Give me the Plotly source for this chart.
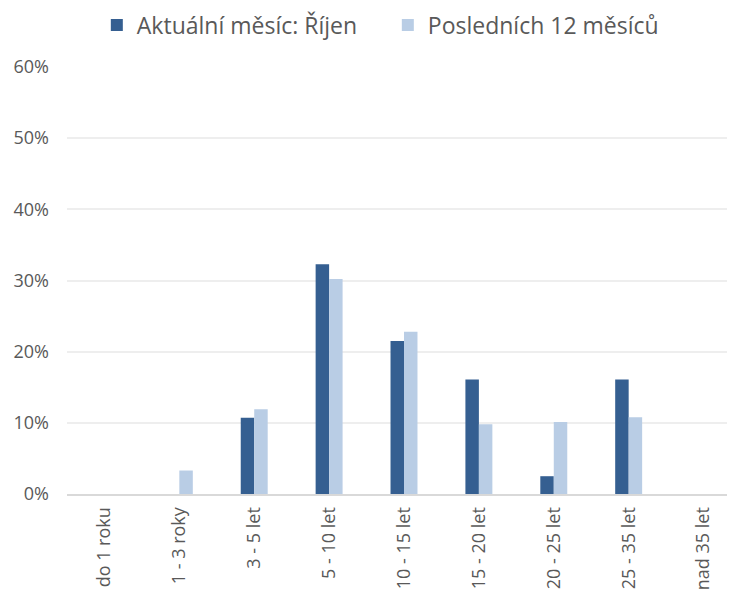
import plotly.graph_objects as go

categories = ["do 1 roku", "1 - 3 roky", "3 - 5 let", "5 - 10 let", "10 - 15 let",
              "15 - 20 let", "20 - 25 let", "25 - 35 let", "nad 35 let"]
aktualni = [0, 0, 0.107, 0.323, 0.215, 0.161, 0.025, 0.161, 0]
poslednich = [0, 0.033, 0.119, 0.302, 0.228, 0.098, 0.101, 0.108, 0]
series_names = ["Aktuální měsíc: Říjen", "Posledních 12 měsíců"]
ytick_vals = [0, 0.1, 0.2, 0.3, 0.4, 0.5, 0.6]
ytick_text = ["0%", "10%", "20%", "30%", "40%", "50%", "60%"]

FONT = "'Open Sans', sans-serif"
fig = go.Figure()
fig.add_trace(go.Bar(x=categories, y=aktualni, name=series_names[0],
                     marker=dict(color="#355F91", line=dict(width=0))))
fig.add_trace(go.Bar(x=categories, y=poslednich, name=series_names[1],
                     marker=dict(color="#B9CDE5", line=dict(width=0))))

fig.update_layout(
    width=735, height=592,
    margin=dict(l=58.5, r=1.5, t=59, b=106),
    paper_bgcolor="white", plot_bgcolor="white",
    barmode="group", bargap=0.64, bargroupgap=0,
    font=dict(family=FONT, color="#595959"),
    legend=dict(orientation="h", x=0.476, xanchor="center",
                yref="container", y=0.971, yanchor="middle",
                font=dict(size=23, color="#595959"), itemwidth=30,
                entrywidth=246, entrywidthmode="pixels",
                traceorder="normal"),
    xaxis=dict(tickangle=-90, tickfont=dict(size=18, color="#595959"),
               showline=True, linecolor="#D9D9D9", linewidth=2,
               showgrid=False, ticks="", automargin=False, ticklabelstandoff=4),
    yaxis=dict(range=[0, 0.6], tickvals=ytick_vals, ticktext=ytick_text,
               tickfont=dict(size=18, color="#595959"),
               showgrid=True, gridcolor="#EEEEEE", gridwidth=1.5,
               zeroline=False, showline=False, ticks="", ticklabelstandoff=17,
               automargin=False),
)
fig.write_html("out.html")
